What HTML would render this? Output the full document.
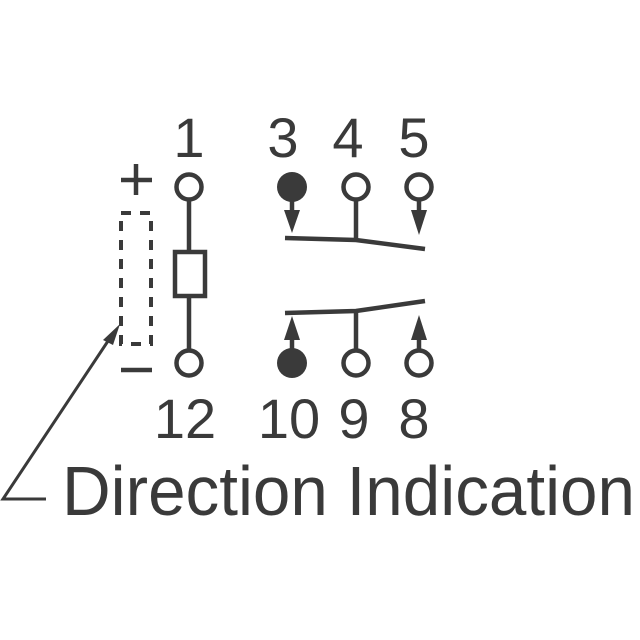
<!DOCTYPE html>
<html><head><style>body{margin:0;background:#fff}</style></head><body>
<svg width="640" height="640" viewBox="0 0 640 640" xmlns="http://www.w3.org/2000/svg" style="display:block">
<g fill="#3a3a3a" font-family="Liberation Sans, sans-serif" font-size="56">
<text x="189" y="157" text-anchor="middle">1</text>
<text x="283" y="157" text-anchor="middle">3</text>
<text x="348" y="157" text-anchor="middle">4</text>
<text x="414" y="157" text-anchor="middle">5</text>
<text x="185" y="438" text-anchor="middle">12</text>
<text x="289" y="438" text-anchor="middle">10</text>
<text x="354" y="438" text-anchor="middle">9</text>
<text x="414" y="438" text-anchor="middle">8</text>
<text x="62" y="515" font-size="70" textLength="573" lengthAdjust="spacingAndGlyphs">Direction Indication</text>
</g>
<g stroke="#3a3a3a" fill="none" stroke-width="4.5">
<!-- plus minus -->
<line x1="121" y1="180" x2="152" y2="180"/><line x1="136" y1="164" x2="136" y2="195"/>
<line x1="121" y1="370" x2="152" y2="370"/>
<!-- dashed rect -->
<rect x="121" y="213" width="30" height="131" stroke-dasharray="10,9" stroke-width="4"/>
<!-- coil -->
<line x1="189" y1="200" x2="189" y2="252"/>
<line x1="189" y1="296" x2="189" y2="350"/>
<rect x="175" y="252" width="30" height="44"/>
<circle cx="189" cy="187" r="12.5" fill="#fff"/>
<circle cx="189" cy="363" r="12.5" fill="#fff"/>
<!-- contacts -->
<circle cx="356" cy="187" r="12.5" fill="#fff"/>
<circle cx="419" cy="187" r="12.5" fill="#fff"/>
<circle cx="356" cy="363" r="12.5" fill="#fff"/>
<circle cx="419" cy="363" r="12.5" fill="#fff"/>
<line x1="356" y1="200" x2="356" y2="240"/>
<line x1="356" y1="350" x2="356" y2="311"/>
<polyline points="285,238 356,240 425,249"/>
<polyline points="285,313 356,311 425,301"/>
<line x1="292" y1="200" x2="292" y2="212"/>
<line x1="419" y1="200" x2="419" y2="212"/>
<line x1="292" y1="350" x2="292" y2="338"/>
<line x1="419" y1="350" x2="419" y2="338"/>
<!-- leader -->
<polyline points="114,332 3,499 46,499" stroke-width="3"/>
</g>
<g fill="#3a3a3a">
<circle cx="292" cy="187" r="15"/>
<circle cx="292" cy="363" r="15"/>
<polygon points="284,210 300,210 292,233"/>
<polygon points="411,210 427,210 419,235"/>
<polygon points="284,340 300,340 292,316"/>
<polygon points="411,340 427,340 419,315"/>
<polygon points="120,324 103,340 113,345"/>
</g>
</svg>
</body></html>
